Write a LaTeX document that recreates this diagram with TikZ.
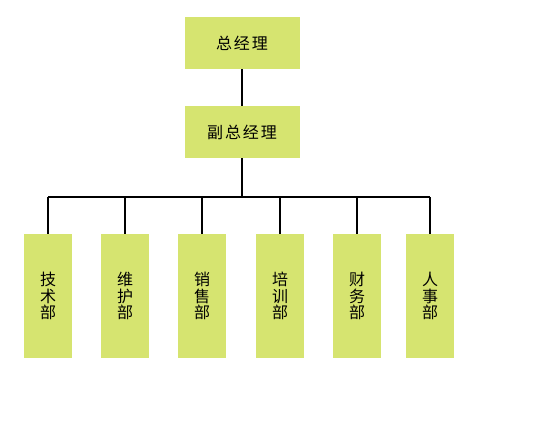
\documentclass[tikz,border=0pt]{standalone}
\usepackage{fontspec}
\setmainfont{Noto Sans CJK SC}[LetterSpace=12]
\usetikzlibrary{calc}
\definecolor{boxgreen}{RGB}{214,228,112}
\tikzset{
  box/.style={fill=boxgreen, minimum width=115pt, minimum height=52pt, inner sep=0pt, font=\fontsize{16}{17}\selectfont},
  dept/.style={fill=boxgreen, minimum width=48pt, minimum height=124pt, inner sep=0pt, align=center, font=\fontsize{16}{16.5}\selectfont},
  link/.style={line width=1.5pt}
}

\begin{document}
\begin{tikzpicture}[x=1pt,y=-1pt]
\useasboundingbox (0,0) rectangle (552,424);
\node[box] (gm) at (242,43) {总经理};
\node[box] (vgm) at (242,132) {副总经理};
\coordinate (bar) at (242,197);
\draw[link] (gm) -- (vgm);
\draw[link] (vgm) -- (bar);
\foreach \x/\name/\txt in {48/tech/{技\\术\\部},125/maint/{维\\护\\部},202/sales/{销\\售\\部},280/train/{培\\训\\部},357/fin/{财\\务\\部},430/hr/{人\\事\\部}}
\node[dept] (\name) at (\x,296) {\txt};
\draw[link] (tech |- bar) -- (hr |- bar);
\foreach \name in {tech,maint,sales,train,fin,hr}
\draw[link] (\name |- bar) -- (\name.north);
\end{tikzpicture}
\end{document}
